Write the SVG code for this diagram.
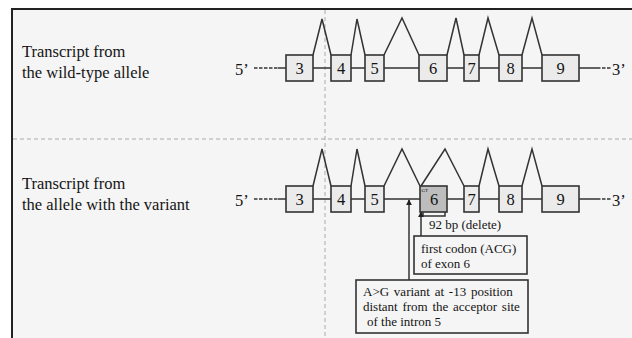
<svg xmlns="http://www.w3.org/2000/svg" width="632" height="338" viewBox="0 0 632 338">
<defs>
<style>
text{font-family:'Liberation Serif','Times New Roman','DejaVu Serif',serif;fill:#141414}
.lbl{font-size:16.5px}
.num{font-size:16.5px;text-anchor:middle}
.sm{font-size:13px}
.ex{fill:#ebebeb;stroke:#333;stroke-width:1.6}
.ln{fill:none;stroke:#333;stroke-width:1.5}
.sep{fill:none;stroke:#aaa;stroke-width:1;stroke-dasharray:4 3}
.dash{fill:none;stroke:#333;stroke-width:1.5;stroke-dasharray:3.5 1.5}
.box{fill:#f5f5f5;stroke:#333;stroke-width:1.6}
</style>
<marker id="ah" viewBox="0 0 8 8" refX="7" refY="4" markerWidth="6" markerHeight="6" orient="auto" markerUnits="userSpaceOnUse">
<path d="M0,0 L8,4 L0,8 Z" fill="#222"/>
</marker>
</defs>
<rect x="0" y="0" width="632" height="338" fill="#fff"/>
<rect x="12" y="9" width="620" height="329" fill="#f5f5f5"/>
<path d="M12,338 V9 H632" fill="none" stroke="#222" stroke-width="2"/>
<line class="sep" x1="13" y1="139" x2="632" y2="139"/>
<line class="sep" x1="325" y1="10" x2="325" y2="338"/>

<g id="connectors">
<line class="dash" x1="254" y1="68" x2="279" y2="68"/>
<line class="ln" x1="278" y1="68" x2="286" y2="68"/>
<path class="ln" d="M313,68 H331 M351,68 H365 M384,68 H419 M447,68 H464 M479,68 H499 M522,68 H542 M579,68 H597"/>
<line class="dash" x1="597" y1="68" x2="611" y2="68" stroke-dasharray="2 2"/>
<path class="ln" d="M313,55 L322,19 L331,55 M351,55 L357,19 L365,55 M384,55 L402,18 L419,55 M447,55 L456,18 L464,55 M479,55 L488,18 L499,55 M522,55 L532,18 L542,55"/>
<line class="dash" x1="254" y1="199" x2="279" y2="199"/>
<line class="ln" x1="278" y1="199" x2="286" y2="199"/>
<path class="ln" d="M313,199 H331 M351,199 H365 M384,199 H420 M447,199 H464 M479,199 H499 M522,199 H542 M579,199 H597"/>
<line class="dash" x1="597" y1="199" x2="611" y2="199" stroke-dasharray="2 2"/>
<path class="ln" d="M313,186 L322,149 L331,186 M351,186 L357,149 L365,186 M384,186 L402,149 L420,186 M421,186 L445,149 L464,186 M479,186 L488,149 L499,186 M522,186 L532,149 L542,186"/>
<path class="ln" d="M423,212 V216 H445 V212"/>
<line class="ln" x1="409" y1="280" x2="409" y2="200" marker-end="url(#ah)"/>
<line class="ln" x1="421" y1="236" x2="421" y2="212" marker-end="url(#ah)"/>
</g>

<g id="label-wt">
<text class="lbl" x="22" y="57">Transcript from</text>
<text class="lbl" x="22" y="77.5">the wild-type allele</text>
</g>
<g id="label-var">
<text class="lbl" x="22" y="189">Transcript from</text>
<text class="lbl" x="22" y="209.5">the allele with the variant</text>
</g>

<g id="ends-wt">
<text class="lbl" x="235" y="75">5’</text>
<text class="lbl" x="612" y="75">3’</text>
</g>
<g id="ends-var">
<text class="lbl" x="235" y="206">5’</text>
<text class="lbl" x="612" y="206">3’</text>
</g>

<g id="wt-exon3"><rect class="ex" x="286" y="55" width="27" height="26"/><text class="num" x="299.5" y="74">3</text></g>
<g id="wt-exon4"><rect class="ex" x="331" y="55" width="20" height="26"/><text class="num" x="341" y="74">4</text></g>
<g id="wt-exon5"><rect class="ex" x="365" y="55" width="19" height="26"/><text class="num" x="374.5" y="74">5</text></g>
<g id="wt-exon6"><rect class="ex" x="419" y="55" width="28" height="26"/><text class="num" x="433" y="74">6</text></g>
<g id="wt-exon7"><rect class="ex" x="464" y="55" width="15" height="26"/><text class="num" x="471.5" y="74">7</text></g>
<g id="wt-exon8"><rect class="ex" x="499" y="55" width="23" height="26"/><text class="num" x="510.5" y="74">8</text></g>
<g id="wt-exon9"><rect class="ex" x="542" y="55" width="37" height="26"/><text class="num" x="560.5" y="74">9</text></g>

<g id="var-exon3"><rect class="ex" x="286" y="186" width="27" height="26"/><text class="num" x="299.5" y="205">3</text></g>
<g id="var-exon4"><rect class="ex" x="331" y="186" width="20" height="26"/><text class="num" x="341" y="205">4</text></g>
<g id="var-exon5"><rect class="ex" x="365" y="186" width="19" height="26"/><text class="num" x="374.5" y="205">5</text></g>
<g id="var-exon6"><rect class="ex" x="420" y="186" width="27" height="26" style="fill:#bdbdbd"/><text x="421.5" y="191.5" font-size="5">GT</text><text class="num" x="434" y="205">6</text></g>
<g id="var-exon7"><rect class="ex" x="464" y="186" width="15" height="26"/><text class="num" x="471.5" y="205">7</text></g>
<g id="var-exon8"><rect class="ex" x="499" y="186" width="23" height="26"/><text class="num" x="510.5" y="205">8</text></g>
<g id="var-exon9"><rect class="ex" x="542" y="186" width="37" height="26"/><text class="num" x="560.5" y="205">9</text></g>

<g id="deletion-label"><text class="sm" x="429" y="229">92 bp (delete)</text></g>

<g id="codon-box">
<rect class="box" x="414" y="236" width="113" height="38"/>
<text class="sm" x="421" y="252.5">first codon (ACG)</text>
<text class="sm" x="421" y="267.5">of exon 6</text>
</g>

<g id="variant-box">
<rect class="box" x="356" y="280" width="172" height="53"/>
<text class="sm" x="363" y="296" word-spacing="1.5">A&gt;G variant at -13 position</text>
<text class="sm" x="363" y="310.5" word-spacing="1.5">distant from the acceptor site</text>
<text class="sm" x="367" y="325.5">of the intron 5</text>
</g>
</svg>
